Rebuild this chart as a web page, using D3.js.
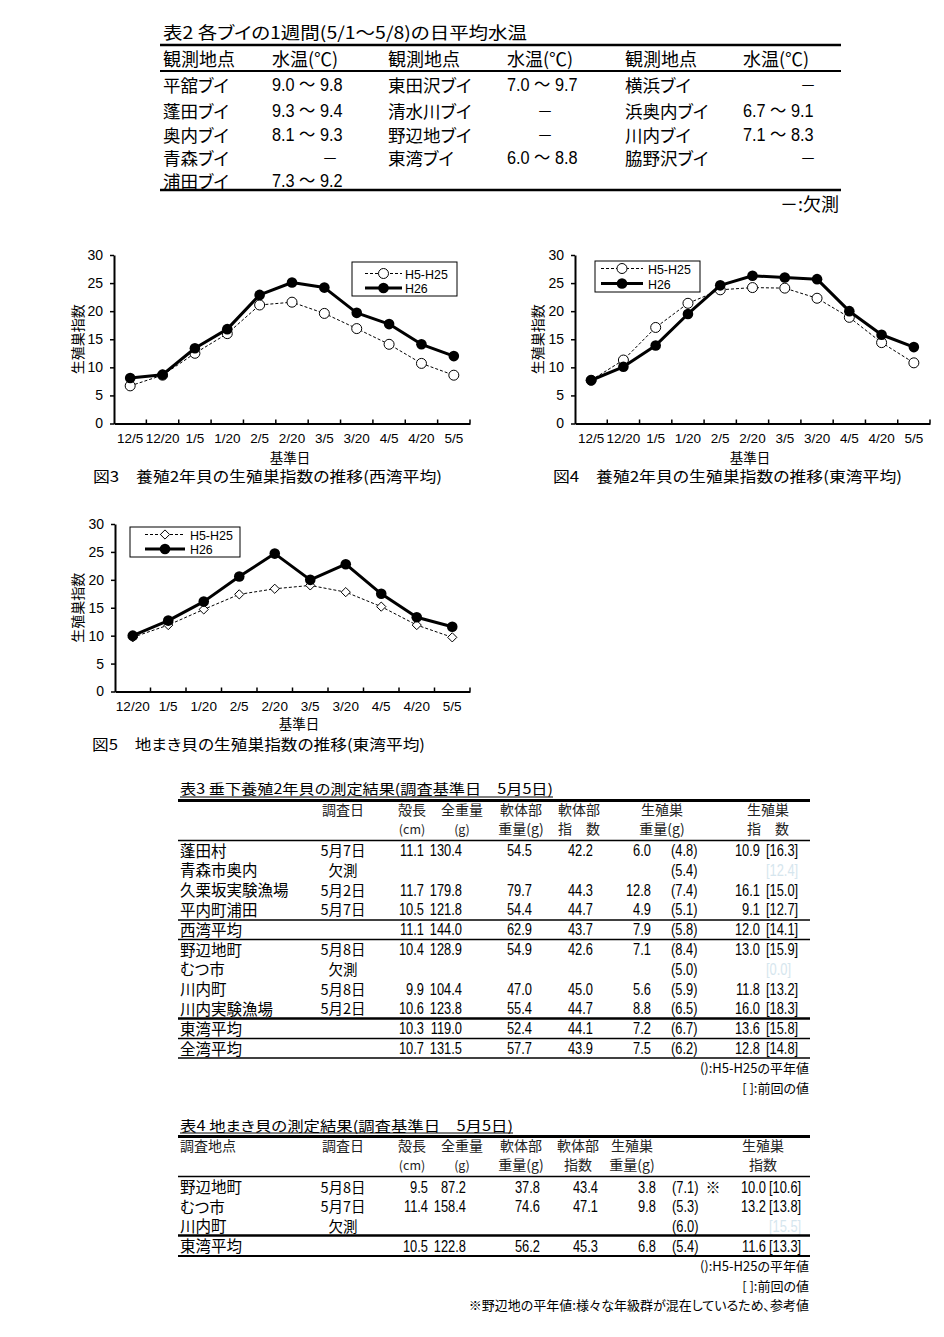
<!DOCTYPE html>
<html><head><meta charset="utf-8">
<script src="https://cdn.jsdelivr.net/npm/d3@7/dist/d3.min.js"></script>
<style>
html,body{margin:0;padding:0;background:#fff;}
text{font-feature-settings:"palt";}
</style></head><body>
<svg id="page" width="944" height="1337" xmlns="http://www.w3.org/2000/svg"></svg>
<script>
// ---------- DATA ----------
// 表2
const buoyNamesA = ["平舘ブイ","蓬田ブイ","奥内ブイ","青森ブイ","浦田ブイ"];
const buoyTempsA = ["9.0 ～ 9.8","9.3 ～ 9.4","8.1 ～ 9.3","－","7.3 ～ 9.2"];
const buoyNamesB = ["東田沢ブイ","清水川ブイ","野辺地ブイ","東湾ブイ"];
const buoyTempsB = ["7.0 ～ 9.7","－","－","6.0 ～ 8.8"];
const buoyNamesC = ["横浜ブイ","浜奥内ブイ","川内ブイ","脇野沢ブイ"];
const buoyTempsC = ["－","6.7 ～ 9.1","7.1 ～ 8.3","－"];

// 図3-5
const datesA = ["12/5","12/20","1/5","1/20","2/5","2/20","3/5","3/20","4/5","4/20","5/5"];
const datesB = ["12/20","1/5","1/20","2/5","2/20","3/5","3/20","4/5","4/20","5/5"];
const yTicks = [0,5,10,15,20,25,30];
const westAvg = [6.7,8.6,12.5,16.0,21.1,21.6,19.6,16.9,14.1,10.7,8.6];
const westH26 = [8.1,8.7,13.4,16.8,22.9,25.1,24.2,19.7,17.7,14.1,12.0];
const eastAvg = [7.7,11.3,17.1,21.4,23.8,24.2,24.1,22.3,18.9,14.4,10.8];
const eastH26 = [7.7,10.1,13.9,19.5,24.6,26.3,26.0,25.7,20.0,15.8,13.6];
const jimakiAvg = [9.7,11.9,14.7,17.4,18.4,19.0,17.8,15.2,11.9,9.7];
const jimakiH26 = [10.0,12.7,16.1,20.6,24.7,20.0,22.8,17.5,13.3,11.6];
const seriesNames = ["H5-H25","H26"];

// 表3
const t3Sites = ["蓬田村","青森市奥内","久栗坂実験漁場","平内町浦田","西湾平均","野辺地町","むつ市","川内町","川内実験漁場","東湾平均","全湾平均"];
const t3Dates = ["5月7日","欠測","5月2日","5月7日","","5月8日","欠測","5月8日","5月2日","",""];
const t3Shell = ["11.1","","11.7","10.5","11.1","10.4","","9.9","10.6","10.3","10.7"];
const t3Total = ["130.4","","179.8","121.8","144.0","128.9","","104.4","123.8","119.0","131.5"];
const t3SoftW = ["54.5","","79.7","54.4","62.9","54.9","","47.0","55.4","52.4","57.7"];
const t3SoftI = ["42.2","","44.3","44.7","43.7","42.6","","45.0","44.7","44.1","43.9"];
const t3GonadW = ["6.0","","12.8","4.9","7.9","7.1","","5.6","8.8","7.2","7.5"];
const t3GonadWNorm = ["(4.8)","(5.4)","(7.4)","(5.1)","(5.8)","(8.4)","(5.0)","(5.9)","(6.5)","(6.7)","(6.2)"];
const t3GonadI = ["10.9","","16.1","9.1","12.0","13.0","","11.8","16.0","13.6","12.8"];
const t3GonadIPrev = ["[16.3]","[12.4]","[15.0]","[12.7]","[14.1]","[15.9]","[0.0]","[13.2]","[18.3]","[15.8]","[14.8]"];

// 表4
const t4Sites = ["野辺地町","むつ市","川内町","東湾平均"];
const t4Dates = ["5月8日","5月7日","欠測",""];
const t4Shell = ["9.5","11.4","","10.5"];
const t4Total = ["87.2","158.4","","122.8"];
const t4SoftW = ["37.8","74.6","","56.2"];
const t4SoftI = ["43.4","47.1","","45.3"];
const t4GonadW = ["3.8","9.8","","6.8"];
const t4GonadWNorm = ["(7.1)","(5.3)","(6.0)","(5.4)"];
const t4Mark = ["※","","",""];
const t4GonadI = ["10.0","13.2","","11.6"];
const t4GonadIPrev = ["[10.6]","[13.8]","[15.5]","[13.3]"];

// ---------- DRAWING ----------
const JP = "'Noto Sans CJK JP','Noto Sans',sans-serif";
const SANS = "'Liberation Sans','Noto Sans CJK JP',sans-serif";
const FAINT = "#d6e6ee";
const svg = d3.select("#page");
svg.append("rect").attr("width",944).attr("height",1337).attr("fill","#fff");

function txt(x,y,s,o={}){
  const t = svg.append("text").text(s)
    .attr("font-size",o.fs||14).attr("font-family",o.ff||JP)
    .attr("text-anchor",o.anchor||"start").attr("dominant-baseline","central")
    .attr("fill",o.fill||"#000");
  const yy = y + (o.dy||0);
  if(o.sx) t.attr("x",0).attr("y",0).attr("transform",`translate(${x},${yy}) scale(${o.sx},1)`);
  else t.attr("x",x).attr("y",yy);
  if(o.len) t.attr("textLength",o.len).attr("lengthAdjust","spacingAndGlyphs");
  if(o.fw) t.attr("font-weight",o.fw);
  return t;
}
function hline(x1,x2,y,w){
  svg.append("line").attr("x1",x1).attr("x2",x2).attr("y1",y).attr("y2",y)
    .attr("stroke","#000").attr("stroke-width",w);
}

// ===== 表2 =====
txt(163,31,"表2  各ブイの1週間(5/1～5/8)の日平均水温",{fs:17,len:364});
hline(160,841,45,2.5);
const t2NameX=[163,388,625], t2TempX=[272,507,743], t2DashX=[330,545,808];
t2NameX.forEach((x,i)=>{
  txt(x,58,"観測地点",{fs:18});
  txt(t2TempX[i],58,"水温(℃)",{fs:18});
});
hline(160,841,71,2);
const t2RowY=[84,110,134,157,180];
[[buoyNamesA,buoyTempsA],[buoyNamesB,buoyTempsB],[buoyNamesC,buoyTempsC]].forEach(([names,temps],c)=>{
  names.forEach((n,i)=>{
    txt(t2NameX[c],t2RowY[i],n,{fs:17.5});
    const v=temps[i];
    if(v==="－") txt(t2DashX[c],t2RowY[i],v,{fs:16,anchor:"middle"});
    else txt(t2TempX[c],t2RowY[i],v,{fs:18.5,ff:SANS,sx:0.88,dy:1});
  });
});
hline(160,841,190,2.5);
txt(839,203,"－:欠測",{fs:18,anchor:"end"});

// ===== Charts =====
function drawChart(cfg){
  const g = svg.append("g");
  const x = d3.scaleBand().domain(cfg.cats).range([cfg.left,cfg.right]).padding(0);
  const y = d3.scaleLinear().domain([0,30]).range([cfg.bottom,cfg.top]);
  const cx = d => x(d)+x.bandwidth()/2;

  const gy = g.append("g").attr("transform",`translate(${cfg.left},0)`)
    .call(d3.axisLeft(y).tickValues(yTicks).tickSize(4).tickSizeOuter(0).tickPadding(7));
  gy.select(".domain").attr("stroke","#000").attr("stroke-width",2);
  gy.selectAll(".tick line").attr("stroke","#000").attr("stroke-width",1.5);
  gy.selectAll("text").attr("font-family",SANS).attr("font-size",14).attr("fill","#000");

  const gx = g.append("g").attr("transform",`translate(0,${cfg.bottom})`)
    .call(d3.axisBottom(x).tickSize(0).tickSizeOuter(0).tickPadding(10));
  gx.select(".domain").attr("stroke","#000").attr("stroke-width",2);
  gx.selectAll("text").attr("font-family",SANS).attr("font-size",13.5).attr("fill","#000");
  const bounds = cfg.cats.slice(1).map(c=>x(c)).concat([cfg.right]);
  g.append("g").selectAll("line").data(bounds).join("line")
    .attr("x1",d=>d).attr("x2",d=>d).attr("y1",cfg.bottom).attr("y2",cfg.bottom-4)
    .attr("stroke","#000").attr("stroke-width",1.5);

  const line = d3.line().x((d,i)=>cx(cfg.cats[i])).y(d=>y(d));
  g.append("path").attr("d",line(cfg.avg)).attr("fill","none").attr("stroke","#000")
    .attr("stroke-width",1).attr("stroke-dasharray","3,2");
  const drawAvgMarker = (sel,px,py)=>{
    if(cfg.marker==="diamond"){
      const s=4.6;
      sel.append("path").attr("d",`M${px},${py-s}L${px+s},${py}L${px},${py+s}L${px-s},${py}Z`)
        .attr("fill","#fff").attr("stroke","#000").attr("stroke-width",1);
    } else {
      sel.append("circle").attr("cx",px).attr("cy",py).attr("r",5)
        .attr("fill","#fff").attr("stroke","#000").attr("stroke-width",1);
    }
  };
  cfg.avg.forEach((v,i)=>drawAvgMarker(g,cx(cfg.cats[i]),y(v)));
  g.append("path").attr("d",line(cfg.h26)).attr("fill","none").attr("stroke","#000")
    .attr("stroke-width",3).attr("stroke-linejoin","round");
  g.append("g").selectAll("circle").data(cfg.h26).join("circle")
    .attr("cx",(d,i)=>cx(cfg.cats[i])).attr("cy",d=>y(d)).attr("r",5.3).attr("fill","#000");

  // legend
  const L=cfg.legend;
  g.append("rect").attr("x",L.x).attr("y",L.y).attr("width",L.w).attr("height",L.h)
    .attr("fill","#fff").attr("stroke","#000").attr("stroke-width",1);
  const mid=(L.lx1+L.lx2)/2;
  g.append("line").attr("x1",L.lx1).attr("x2",L.lx2).attr("y1",L.r1).attr("y2",L.r1)
    .attr("stroke","#000").attr("stroke-width",1).attr("stroke-dasharray","3,2");
  drawAvgMarker(g,mid,L.r1);
  g.append("line").attr("x1",L.lx1).attr("x2",L.lx2).attr("y1",L.r2).attr("y2",L.r2)
    .attr("stroke","#000").attr("stroke-width",3);
  g.append("circle").attr("cx",mid).attr("cy",L.r2).attr("r",5.3).attr("fill","#000");
  txt(L.tx,L.r1,seriesNames[0],{fs:13.5,ff:SANS,sx:0.92,dy:0.5});
  txt(L.tx,L.r2,seriesNames[1],{fs:13.5,ff:SANS,sx:0.92,dy:0.5});

  // titles
  svg.append("text").attr("transform",`translate(${cfg.ylabX},${(cfg.top+cfg.bottom)/2}) rotate(-90)`)
    .attr("text-anchor","middle").attr("dominant-baseline","central")
    .attr("font-family",JP).attr("font-size",14).text("生殖巣指数");
  txt(cfg.xtX,cfg.xtY,"基準日",{fs:13.5,anchor:"middle"});
  txt(cfg.capX,cfg.capY,cfg.caption,{fs:15,len:cfg.capLen});
}

drawChart({cats:datesA,avg:westAvg,h26:westH26,marker:"circle",left:114,right:470,top:255,bottom:423.5,
  legend:{x:352,y:262,w:105,h:34,lx1:365,lx2:402,tx:405,r1:273.5,r2:288},
  ylabX:77,xtX:290,xtY:456.5,capX:93,capY:475,capLen:349,
  caption:"図3　養殖2年貝の生殖巣指数の推移(西湾平均)"});
drawChart({cats:datesA,avg:eastAvg,h26:eastH26,marker:"circle",left:575,right:930,top:255,bottom:423.5,
  legend:{x:595,y:261,w:105,h:31,lx1:601,lx2:643,tx:648,r1:268.5,r2:283.5},
  ylabX:537,xtX:750,xtY:456.5,capX:553,capY:475,capLen:349,
  caption:"図4　養殖2年貝の生殖巣指数の推移(東湾平均)"});
drawChart({cats:datesB,avg:jimakiAvg,h26:jimakiH26,marker:"diamond",left:115,right:470,top:524,bottom:691.5,
  legend:{x:130,y:527,w:110,h:30,lx1:145,lx2:185,tx:190,r1:534.5,r2:549},
  ylabX:77,xtX:299,xtY:723,capX:92,capY:743,capLen:333,
  caption:"図5　地まき貝の生殖巣指数の推移(東湾平均)"});

// ===== 表3 =====
const TL=178, TR=810;
const NF={fs:16.5,ff:SANS,sx:0.78,dy:1};
txt(180,788,"表3  垂下養殖2年貝の測定結果(調査基準日　5月5日)",{fs:14,len:373});
hline(180,553,797,1);
hline(TL,TR,800.5,3);
const HF={fs:14,fill:"#222"};
const hdr3=[[343,"調査日",""],[412,"殻長","(cm)"],[462,"全重量","(g)"],[521,"軟体部","重量(g)"],[579,"軟体部","指　数"],[662,"生殖巣","重量(g)"],[768,"生殖巣","指　数"]];
hdr3.forEach(([x,a,b])=>{
  txt(x,809,a,Object.assign({anchor:"middle"},HF));
  if(b) txt(x,828,b,Object.assign({anchor:"middle"},HF,{fs:b.startsWith("(")?12.5:14}));
});
hline(TL,TR,840.5,1.5);
const colR3={shell:424,total:462,softW:532,softI:593,gonadW:651,norm:671,gonadI:760,prev:766};
t3Sites.forEach((s,i)=>{
  const yy=849.5+i*19.8;
  txt(180,yy,s,{fs:15.5});
  if(t3Dates[i]) txt(343,yy,t3Dates[i],{fs:14.5,anchor:"middle"});
  const nums=[[t3Shell,colR3.shell],[t3Total,colR3.total],[t3SoftW,colR3.softW],[t3SoftI,colR3.softI],[t3GonadW,colR3.gonadW],[t3GonadI,colR3.gonadI]];
  nums.forEach(([arr,xr])=>{ if(arr[i]) txt(xr,yy,arr[i],Object.assign({anchor:"end"},NF)); });
  txt(colR3.norm,yy,t3GonadWNorm[i],NF);
  txt(colR3.prev,yy,t3GonadIPrev[i],Object.assign({},NF,{fill:t3Dates[i]==="欠測"?FAINT:"#000"}));
});
hline(TL,TR,920,1.5);
hline(TL,TR,939.5,1.5);
hline(TL,TR,1018.5,2.5);
hline(TL,TR,1038.5,1.5);
hline(TL,TR,1058,1.5);
txt(809,1067,"():H5-H25の平年値",{fs:13,anchor:"end"});
txt(809,1087,"[ ]:前回の値",{fs:13,anchor:"end"});

// ===== 表4 =====
txt(180,1125,"表4  地まき貝の測定結果(調査基準日　5月5日)",{fs:14,len:333});
hline(180,513,1133,1);
hline(TL,TR,1136.5,3);
txt(180,1145,"調査地点",HF);
const hdr4=[[343,"調査日",""],[412,"殻長","(cm)"],[462,"全重量","(g)"],[521,"軟体部","重量(g)"],[578,"軟体部","指数"],[632,"生殖巣","重量(g)"],[763,"生殖巣","指数"]];
hdr4.forEach(([x,a,b])=>{
  txt(x,1145,a,Object.assign({anchor:"middle"},HF));
  if(b) txt(x,1164,b,Object.assign({anchor:"middle"},HF,{fs:b.startsWith("(")?12.5:14}));
});
hline(TL,TR,1176.5,1.5);
const colR4={shell:428,total:466,softW:540,softI:598,gonadW:656,norm:672,mark:713,gonadI:766,prev:769};
const t4RowY=[1186,1205.5,1225,1245];
t4Sites.forEach((s,i)=>{
  const yy=t4RowY[i];
  txt(180,yy,s,{fs:15.5});
  if(t4Dates[i]) txt(343,yy,t4Dates[i],{fs:14.5,anchor:"middle"});
  const nums=[[t4Shell,colR4.shell],[t4Total,colR4.total],[t4SoftW,colR4.softW],[t4SoftI,colR4.softI],[t4GonadW,colR4.gonadW],[t4GonadI,colR4.gonadI]];
  nums.forEach(([arr,xr])=>{ if(arr[i]) txt(xr,yy,arr[i],Object.assign({anchor:"end"},NF)); });
  txt(colR4.norm,yy,t4GonadWNorm[i],NF);
  if(t4Mark[i]) txt(colR4.mark,yy,t4Mark[i],{fs:15,anchor:"middle"});
  txt(colR4.prev,yy,t4GonadIPrev[i],Object.assign({},NF,{fill:t4Dates[i]==="欠測"?FAINT:"#000"}));
});
hline(TL,TR,1235.5,2.5);
hline(TL,TR,1256,2);
txt(809,1265,"():H5-H25の平年値",{fs:13,anchor:"end"});
txt(809,1285,"[ ]:前回の値",{fs:13,anchor:"end"});
txt(809,1304,"※野辺地の平年値:様々な年級群が混在しているため、参考値",{fs:13,anchor:"end"});
</script></body></html>
